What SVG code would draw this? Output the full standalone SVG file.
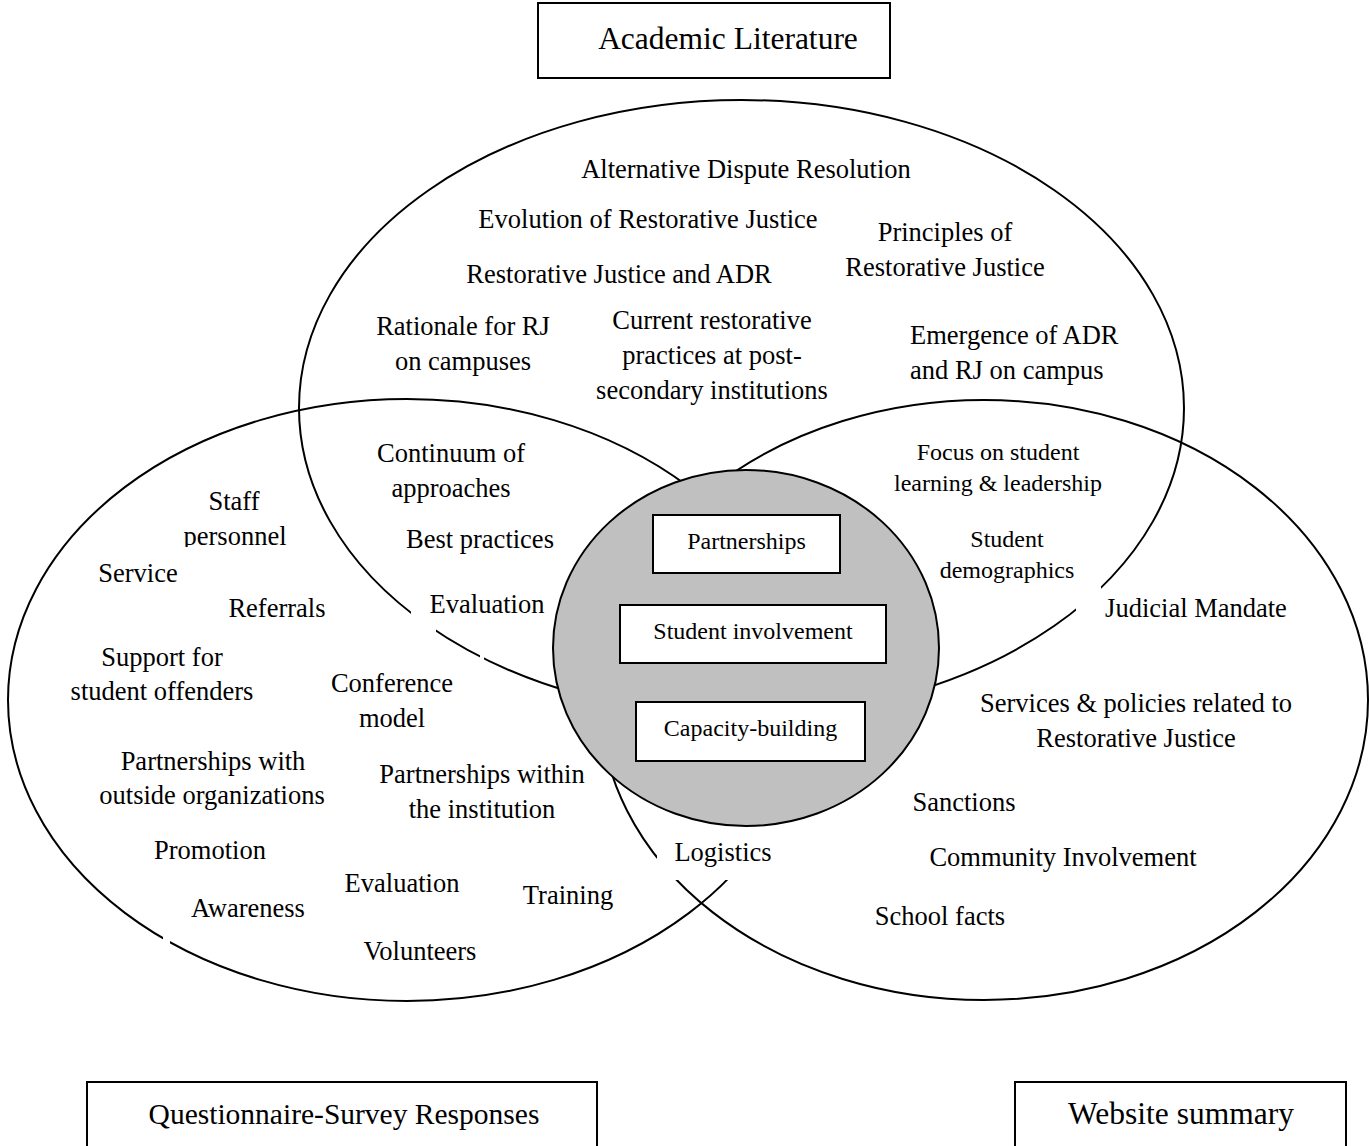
<svg xmlns="http://www.w3.org/2000/svg" width="1369" height="1146" viewBox="0 0 1369 1146">
<style>
.set{fill:none;stroke:#000;stroke-width:2}
.mask{fill:#fff;stroke:none}
.box{fill:#fff;stroke:#000;stroke-width:2}
text{font-family:"Liberation Serif","Times New Roman",serif;fill:#000;text-anchor:middle}
.t{font-size:26.5px}
.s{font-size:24px}
.h{font-size:31.5px}
.q{font-size:29.5px}
.l{text-anchor:start}
</style>
<rect width="1369" height="1146" fill="#fff"/>
<g id="sets">
<ellipse id="academic-set" class="set" cx="741.5" cy="408" rx="442.5" ry="308"/>
<ellipse id="questionnaire-set" class="set" cx="407" cy="700" rx="399" ry="301"/>
<ellipse id="website-set" class="set" cx="984" cy="700" rx="384" ry="300"/>
</g>
<g id="gaps">
<rect class="mask" x="411" y="600" width="25" height="40"/>
<rect class="mask" x="480" y="645" width="4" height="20"/>
<rect class="mask" x="1076" y="570" width="25" height="50"/>
<rect class="mask" x="163" y="925" width="7" height="30"/>
<rect class="mask" x="657" y="812" width="128" height="68"/>
</g>
<g id="core">
<ellipse cx="746" cy="648" rx="193" ry="178" fill="#c0c0c0" stroke="#000" stroke-width="2"/>
<g id="partnerships"><rect class="box" x="653" y="515" width="187" height="58"/><text class="s" x="746.5" y="549">Partnerships</text></g>
<g id="student-involvement"><rect class="box" x="620" y="605" width="266" height="58"/><text class="s" x="753" y="639">Student involvement</text></g>
<g id="capacity-building"><rect class="box" x="636" y="702" width="229" height="59"/><text class="s" x="750.5" y="736">Capacity-building</text></g>
</g>
<g id="titles">
<g id="academic-literature"><rect class="box" x="538" y="3" width="352" height="75"/><text class="h" x="728" y="49">Academic Literature</text></g>
<g id="questionnaire-survey"><rect class="box" x="87" y="1082" width="510" height="70"/><text class="q" x="344" y="1124">Questionnaire-Survey Responses</text></g>
<g id="website-summary"><rect class="box" x="1015" y="1082" width="331" height="70"/><text class="h" x="1181" y="1124">Website summary</text></g>
</g>
<g id="academic-labels">
<text class="t" x="746" y="178">Alternative Dispute Resolution</text>
<text class="t" x="648" y="228">Evolution of Restorative Justice</text>
<text class="t" x="945" y="241">Principles of</text>
<text class="t" x="945" y="276">Restorative Justice</text>
<text class="t" x="619" y="283">Restorative Justice and ADR</text>
<text class="t" x="463" y="335">Rationale for RJ</text>
<text class="t" x="463" y="370">on campuses</text>
<text class="t" x="712" y="329">Current restorative</text>
<text class="t" x="712" y="364">practices at post-</text>
<text class="t" x="712" y="399">secondary institutions</text>
<text class="t l" x="910" y="344">Emergence of ADR</text>
<text class="t l" x="910" y="379">and RJ on campus</text>
</g>
<g id="academic-questionnaire-labels">
<text class="t" x="451" y="462">Continuum of</text>
<text class="t" x="451" y="497">approaches</text>
<text class="t" x="480" y="548">Best practices</text>
<text class="t" x="487" y="613">Evaluation</text>
</g>
<g id="questionnaire-labels">
<text class="t" x="234" y="510">Staff</text>
<text class="t" x="235" y="545">personnel</text>
<rect class="mask" x="178" y="547" width="115" height="9"/>
<text class="t" x="138" y="582">Service</text>
<text class="t" x="277" y="617">Referrals</text>
<text class="t" x="162" y="666">Support for</text>
<text class="t" x="162" y="700">student offenders</text>
<text class="t" x="392" y="692">Conference</text>
<text class="t" x="392" y="727">model</text>
<text class="t" x="213" y="770">Partnerships with</text>
<text class="t" x="212" y="804">outside organizations</text>
<text class="t" x="482" y="783">Partnerships within</text>
<text class="t" x="482" y="818">the institution</text>
<text class="t" x="210" y="859">Promotion</text>
<text class="t" x="402" y="892">Evaluation</text>
<text class="t" x="248" y="917">Awareness</text>
<text class="t" x="568" y="904">Training</text>
<text class="t" x="420" y="960">Volunteers</text>
<text class="t" x="723" y="861">Logistics</text>
</g>
<g id="academic-website-labels">
<text class="s" x="998" y="460">Focus on student</text>
<text class="s" x="998" y="491">learning &amp; leadership</text>
<text class="s" x="1007" y="547">Student</text>
<text class="s" x="1007" y="578">demographics</text>
</g>
<g id="website-labels">
<text class="t" x="1196" y="617">Judicial Mandate</text>
<text class="t" x="1136" y="712">Services &amp; policies related to</text>
<text class="t" x="1136" y="747">Restorative Justice</text>
<text class="t" x="964" y="811">Sanctions</text>
<text class="t" x="1063" y="866">Community Involvement</text>
<text class="t" x="940" y="925">School facts</text>
</g>
</svg>
